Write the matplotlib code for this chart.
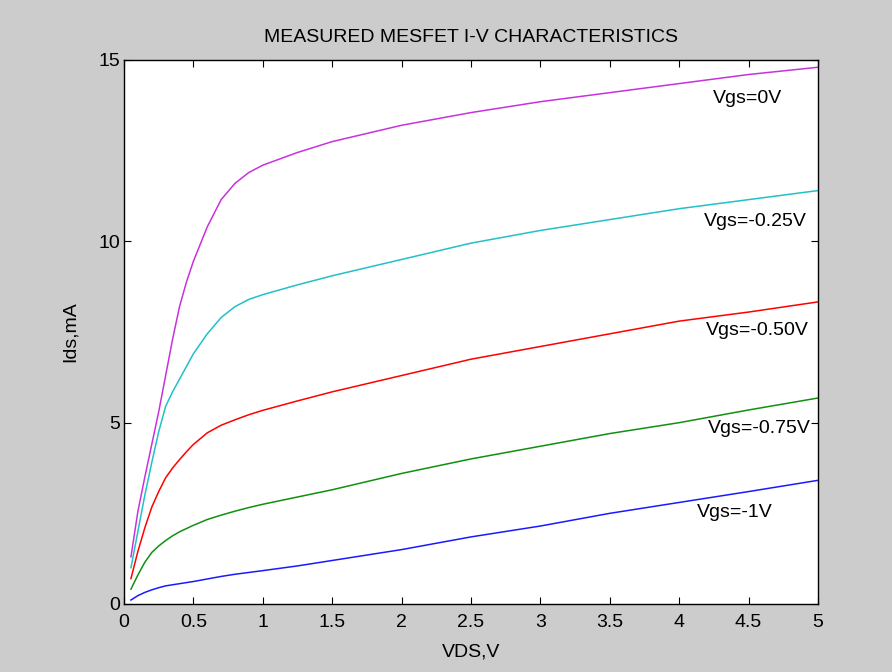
import matplotlib
matplotlib.use("Agg")
import matplotlib.pyplot as plt

vds = [0.05, 0.1, 0.15, 0.2, 0.25, 0.3, 0.35, 0.4, 0.45, 0.5, 0.6, 0.7, 0.8, 0.9, 1.0,
       1.25, 1.5, 2.0, 2.5, 3.0, 3.5, 4.0, 4.5, 5.0]
ids_vgs0 = [1.3, 2.55, 3.5, 4.4, 5.3, 6.3, 7.3, 8.2, 8.88, 9.45, 10.4, 11.15, 11.6, 11.9, 12.1,
            12.45, 12.75, 13.2, 13.55, 13.85, 14.1, 14.35, 14.6, 14.8]
ids_vgs025 = [1.0, 2.0, 3.0, 3.9, 4.75, 5.45, 5.85, 6.2, 6.55, 6.9, 7.45, 7.9, 8.2, 8.4, 8.53,
              8.8, 9.05, 9.5, 9.95, 10.3, 10.6, 10.9, 11.15, 11.4]
ids_vgs050 = [0.7, 1.45, 2.1, 2.67, 3.1, 3.48, 3.75, 3.98, 4.2, 4.4, 4.72, 4.93, 5.08, 5.22, 5.34,
              5.6, 5.85, 6.3, 6.75, 7.1, 7.45, 7.8, 8.05, 8.33]
ids_vgs075 = [0.41, 0.8, 1.15, 1.42, 1.6, 1.75, 1.88, 1.99, 2.08, 2.17, 2.33, 2.45, 2.56, 2.66, 2.75,
              2.95, 3.15, 3.6, 4.0, 4.35, 4.7, 5.0, 5.35, 5.68]
ids_vgs1 = [0.11, 0.23, 0.32, 0.39, 0.45, 0.5, 0.53, 0.56, 0.59, 0.62, 0.69, 0.76, 0.82, 0.87, 0.92,
            1.05, 1.2, 1.5, 1.85, 2.15, 2.5, 2.8, 3.1, 3.41]

labels = ["Vgs=0V", "Vgs=-0.25V", "Vgs=-0.50V", "Vgs=-0.75V", "Vgs=-1V"]
label_x = [4.24, 4.18, 4.19, 4.21, 4.13]
label_y = [13.95, 10.56, 7.55, 4.84, 2.52]

xticks = [0, 0.5, 1, 1.5, 2, 2.5, 3, 3.5, 4, 4.5, 5]
xticklabels = ["0", "0.5", "1", "1.5", "2", "2.5", "3", "3.5", "4", "4.5", "5"]
yticks = [0, 5, 10, 15]

series = [ids_vgs0, ids_vgs025, ids_vgs050, ids_vgs075, ids_vgs1]
colors = ["#c832dc", "#22c0c8", "#ff0000", "#109010", "#1a1aff"]

plt.rcParams['font.family'] = ['Liberation Sans', 'DejaVu Sans']

fig = plt.figure(figsize=(8.92, 6.72), dpi=100, facecolor="#cccccc")
ax = fig.add_axes([124/892, 68/672, 694/892, 544/672])
ax.set_facecolor("white")

for ys, c in zip(series, colors):
    ax.plot(vds, ys, color=c, linewidth=1.1)

for t, x, y in zip(labels, label_x, label_y):
    ax.text(x, y, t, fontsize=14, ha="left", va="center", color="black")

ax.set_xlim(0, 5)
ax.set_ylim(0, 15)
ax.set_xticks(xticks)
ax.set_xticklabels(xticklabels)
ax.set_yticks(yticks)
ax.tick_params(direction="in", top=True, right=True, length=5, labelsize=14, width=0.8, pad=3)
ax.tick_params(axis="x", pad=7.5)
for s in ax.spines.values():
    s.set_linewidth(1.0)
ax.set_title("MEASURED MESFET I-V CHARACTERISTICS", fontsize=14, pad=13)
ax.set_xlabel("VDS,V", fontsize=14, labelpad=8.5)
ax.set_ylabel("Ids,mA", fontsize=14, labelpad=14)

fig.savefig("out.png", dpi=100, facecolor=fig.get_facecolor())
